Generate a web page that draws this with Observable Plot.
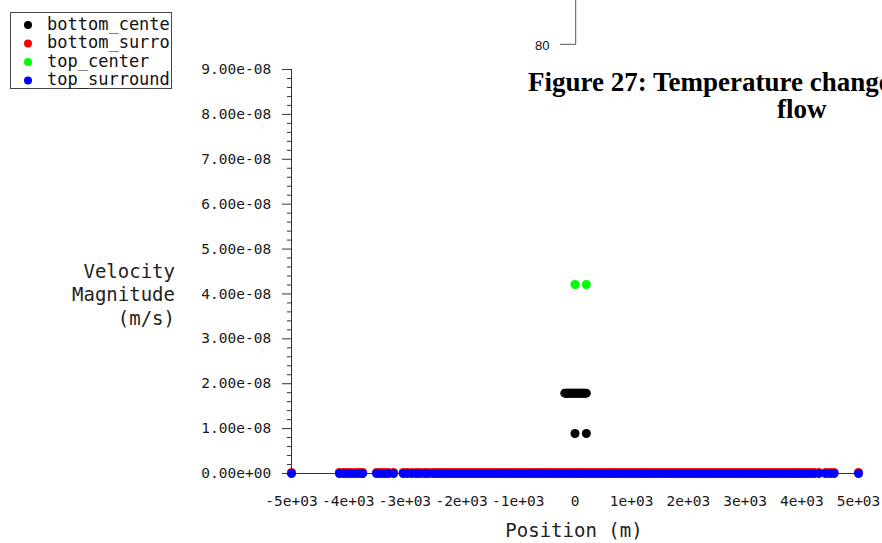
<!DOCTYPE html>
<html><head><meta charset="utf-8">
<script src="https://cdn.jsdelivr.net/npm/d3@7"></script>
<script src="https://cdn.jsdelivr.net/npm/@observablehq/plot@0.6"></script>
<style>
html,body{margin:0;padding:0;background:#fff;overflow:hidden;}
#wrap{position:relative;width:882px;height:543px;overflow:hidden;background:#fff;}
#wrap svg{position:absolute;left:0;top:0;}
</style></head><body><div id="wrap"></div>
<script>
// ---- data ----
const seriesNames = ["bottom_center", "bottom_surround", "top_center", "top_surround"];
const seriesColors = ["#000000", "#ff0000", "#00ff00", "#0000ff"];

const bottomCenterX = [-180, -160, -140, -120, -100, -80, -60, -40, -20, 0, 20, 40, 60, 80, 100, 120, 140, 160, 180, 200, 0, 200];
const bottomCenterY = [1.79e-8, 1.79e-8, 1.79e-8, 1.79e-8, 1.79e-8, 1.79e-8, 1.79e-8, 1.79e-8, 1.79e-8, 1.79e-8, 1.79e-8, 1.79e-8, 1.79e-8, 1.79e-8, 1.79e-8, 1.79e-8, 1.79e-8, 1.79e-8, 1.79e-8, 1.79e-8, 0.89e-8, 0.89e-8];

const topCenterX = [0, 200];
const topCenterY = [4.21e-8, 4.21e-8];

const surroundX = [-5000, -4155, -4080, -4010, -3940, -3870, -3800, -3745, -3500, -3430, -3360, -3290, -3200,
  -3030, -2960, -2880, -2800, -2730, -2650, -2580, -2500, -2440,
  -2380, -2318, -2255, -2190, -2128, -2062, -2000, -1935, -1872, -1808, -1745, -1680, -1615, -1552, -1490, -1425,
  -1360, -1298, -1235, -1170, -1108, -1045, -980, -918, -855, -790, -728, -665, -600, -538, -475, -412, -350, -288,
  -225, -162, -100, -38, 25, 88, 150, 212, 275, 338, 400, 462, 525, 588, 650, 712, 775, 838, 900, 962, 1025, 1088,
  1150, 1212, 1275, 1338, 1400, 1462, 1525, 1588, 1650, 1712, 1775, 1838, 1900, 1962, 2025, 2088, 2150, 2212, 2275,
  2338, 2400, 2462, 2525, 2588, 2650, 2712, 2775, 2838, 2900, 2962, 3025, 3088, 3150, 3212, 3275, 3338, 3400, 3462,
  3525, 3588, 3650, 3712, 3775, 3838, 3900, 3962, 4025, 4088, 4150, 4215, 4300, 4420, 4500, 4570, 5000];
const bottomSurroundValue = 2.2e-10;
const topSurroundValue = 0;

const xTicks = [-5000, -4000, -3000, -2000, -1000, 0, 1000, 2000, 3000, 4000, 5000];
const xTickLabels = ["-5e+03", "-4e+03", "-3e+03", "-2e+03", "-1e+03", "0", "1e+03", "2e+03", "3e+03", "4e+03", "5e+03"];
const yTicks = [0, 1e-8, 2e-8, 3e-8, 4e-8, 5e-8, 6e-8, 7e-8, 8e-8, 9e-8];
const yTickLabels = ["0.00e+00", "1.00e-08", "2.00e-08", "3.00e-08", "4.00e-08", "5.00e-08", "6.00e-08", "7.00e-08", "8.00e-08", "9.00e-08"];
const yLabelLines = ["Velocity", "Magnitude", "(m/s)"];
const xLabel = "Position (m)";
const titleLines = ["Figure 27: Temperature change", "flow"];
const strayTick = "80";

// ---- tables ----
const bottomCenter = bottomCenterX.map((x, i) => ({x, y: bottomCenterY[i]}));
const topCenter = topCenterX.map((x, i) => ({x, y: topCenterY[i]}));
const bottomSurround = surroundX.map(x => ({x, y: bottomSurroundValue}));
const topSurround = surroundX.map(x => ({x, y: topSurroundValue}));
const yMinor = d3.range(0, 46).filter(i => i % 5 !== 0).map(i => i * 0.2e-8);

const mono = "'DejaVu Sans Mono', monospace";
const R = 4.5;

const chart = Plot.plot({
  width: 882, height: 543,
  marginLeft: 291, marginRight: 24, marginTop: 69, marginBottom: 70,
  x: {domain: [-5000, 5000]},
  y: {domain: [0, 9e-8]},
  style: {fontFamily: mono, fontSize: "14.5px", color: "#1a1a1a", background: "white"},
  marks: [
    Plot.axisY({ticks: yMinor, tickSize: 4, tickFormat: () => "", label: null, stroke: "#333"}),
    Plot.axisY({ticks: yTicks, tickSize: 9, tickPadding: 11.3, tickFormat: d => yTickLabels[yTicks.indexOf(d)], label: null, stroke: "#333"}),
    Plot.axisX({ticks: xTicks, tickSize: 3, tickPadding: 19, tickFormat: d => xTickLabels[xTicks.indexOf(d)], label: null, stroke: "#333"}),
    Plot.ruleX([-5000], {y1: 0, y2: 9e-8, stroke: "#333"}),
    Plot.ruleY([0], {x1: -5000, x2: 5000, stroke: "#333"}),
    Plot.dot(bottomCenter, {x: "x", y: "y", r: R, fill: seriesColors[0], stroke: null}),
    Plot.dot(bottomSurround, {x: "x", y: "y", r: R, fill: seriesColors[1], stroke: null}),
    Plot.dot(topCenter, {x: "x", y: "y", r: R, fill: seriesColors[2], stroke: null}),
    Plot.dot(topSurround, {x: "x", y: "y", r: R, fill: seriesColors[3], stroke: null})
  ]
});
const wrap = document.getElementById("wrap");
wrap.appendChild(chart);

// ---- overlay: axis titles, legend, stray document text ----
const ov = d3.create("svg").attr("width", 882).attr("height", 543).style("pointer-events", "none");

yLabelLines.forEach((t, i) => {
  ov.append("text").attr("x", 175).attr("y", 278 + i * 23.3).attr("text-anchor", "end")
    .attr("font-family", mono).attr("font-size", 19).attr("fill", "#222").text(t);
});
ov.append("text").attr("x", 574).attr("y", 537).attr("text-anchor", "middle")
  .attr("font-family", mono).attr("font-size", 19).attr("fill", "#222").text(xLabel);

// legend
const lg = ov.append("g");
lg.append("clipPath").attr("id", "lgclip").append("rect").attr("x", 10).attr("y", 12).attr("width", 161).attr("height", 77);
lg.append("rect").attr("x", 10.5).attr("y", 12.5).attr("width", 161).attr("height", 76)
  .attr("fill", "white").attr("stroke", "#444").attr("stroke-width", 1);
seriesNames.forEach((n, i) => {
  const base = 29.5 + i * 18.5;
  lg.append("circle").attr("cx", 28).attr("cy", base - 4.5).attr("r", 4).attr("fill", seriesColors[i]);
  lg.append("text").attr("x", 47).attr("y", base).attr("clip-path", "url(#lgclip)")
    .attr("font-family", mono).attr("font-size", 17).attr("fill", "#111").text(n);
});

ov.append("path").attr("d", "M575.7,0V44.3H560").attr("fill", "none").attr("stroke", "#555").attr("stroke-width", 1);
ov.append("text").attr("x", 535).attr("y", 49.5).attr("font-family", "'Liberation Sans', Arial, sans-serif")
  .attr("font-size", 13).attr("fill", "#111").text(strayTick);

ov.append("text").attr("x", 528).attr("y", 90.7).attr("font-family", "'Liberation Serif', 'Times New Roman', serif")
  .attr("font-weight", "bold").attr("font-size", 27).attr("fill", "#000").text(titleLines[0]);
ov.append("text").attr("x", 777).attr("y", 118.3).attr("font-family", "'Liberation Serif', 'Times New Roman', serif")
  .attr("font-weight", "bold").attr("font-size", 27).attr("fill", "#000").text(titleLines[1]);

wrap.appendChild(ov.node());
</script>
</body></html>
